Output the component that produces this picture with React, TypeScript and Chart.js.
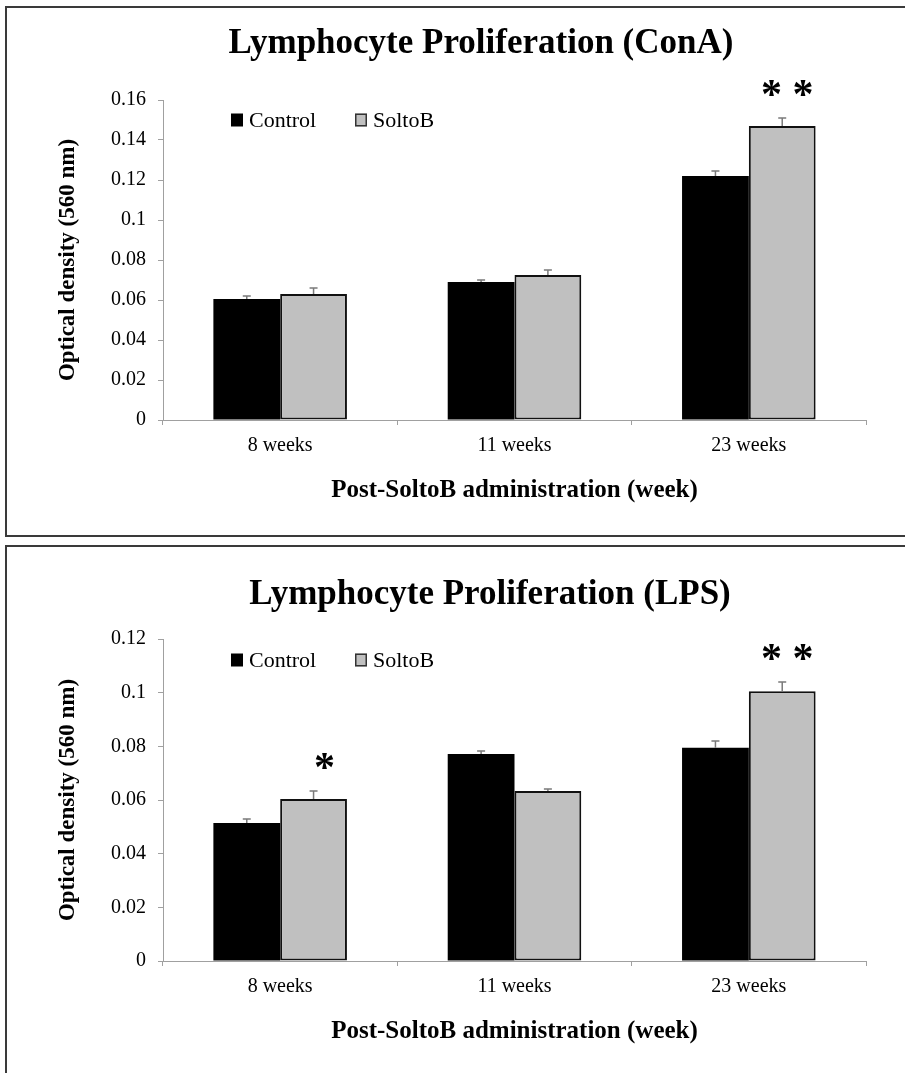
import React, { useEffect, useRef } from "react";
import { Chart, registerables } from "chart.js";

Chart.register(...registerables);

const SERIF = "'Liberation Serif', 'Times New Roman', serif";

const categories = ["8 weeks", "11 weeks", "23 weeks"];
const seriesNames = ["Control", "SoltoB"];
const seriesColors = ["#000000", "#c0c0c0"];

// Concanavalin A stimulated proliferation
const conaControl = [0.0605, 0.069, 0.122];
const conaSoltoB = [0.063, 0.0725, 0.147];
const conaControlErr = [0.0015, 0.001, 0.0025];
const conaSoltoBErr = [0.003, 0.0025, 0.004];
const conaMarks = ["", "", "**"];
const conaTicks = ["0", "0.02", "0.04", "0.06", "0.08", "0.1", "0.12", "0.14", "0.16"];

// Lipopolysaccharide stimulated proliferation
const lpsControl = [0.0514, 0.0771, 0.0795];
const lpsSoltoB = [0.0604, 0.0634, 0.1005];
const lpsControlErr = [0.0015, 0.0012, 0.0025];
const lpsSoltoBErr = [0.003, 0.0007, 0.0035];
const lpsMarks = ["*", "", "**"];
const lpsTicks = ["0", "0.02", "0.04", "0.06", "0.08", "0.1", "0.12"];

type PanelProps = {
  title: string;
  control: number[];
  soltob: number[];
  controlErr: number[];
  soltobErr: number[];
  marks: string[];
  ticks: string[];
  top: number;
  height: number;
  titleX: number;
  titleY: number;
  legendY: number;
  padBottom: number;
};

// Draws the chart title, the in-plot legend, upper error bars and significance marks.
const decorPlugin = {
  id: "decor",
  afterDatasetsDraw(chart: any, _args: any, opts: any) {
    const ctx: CanvasRenderingContext2D = chart.ctx;
    const yScale = chart.scales.y;
    ctx.save();
    chart.data.datasets.forEach((ds: any, di: number) => {
      const meta = chart.getDatasetMeta(di);
      const errs: number[] = opts.errors[di];
      meta.data.forEach((bar: any, i: number) => {
        const v = ds.data[i] as number;
        const yBar = yScale.getPixelForValue(v);
        const yTop = yScale.getPixelForValue(v + errs[i]);
        ctx.strokeStyle = "#7a7a7a";
        ctx.lineWidth = 1.5;
        ctx.beginPath();
        ctx.moveTo(bar.x, yBar);
        ctx.lineTo(bar.x, yTop);
        ctx.moveTo(bar.x - 4, yTop);
        ctx.lineTo(bar.x + 4, yTop);
        ctx.stroke();
      });
    });
    // significance marks above the SoltoB bars
    const metaS = chart.getDatasetMeta(1);
    const dsS = chart.data.datasets[1];
    (opts.marks as string[]).forEach((m, i) => {
      if (!m) return;
      const bar: any = metaS.data[i];
      const v = dsS.data[i] as number;
      const yTop = yScale.getPixelForValue(v + opts.errors[1][i]);
      ctx.fillStyle = "#000";
      ctx.font = `bold 42px ${SERIF}`;
      ctx.textAlign = "center";
      ctx.textBaseline = "alphabetic";
      const text = m.split("").join(" ");
      const dx = m.length === 1 ? 11 : 5;
      ctx.fillText(text, bar.x + dx, yTop - 10);
    });
    ctx.restore();
  },
  afterDraw(chart: any, _args: any, opts: any) {
    const ctx: CanvasRenderingContext2D = chart.ctx;
    ctx.save();
    ctx.fillStyle = "#000";
    ctx.font = `bold 35px ${SERIF}`;
    ctx.textAlign = "center";
    ctx.textBaseline = "middle";
    ctx.fillText(opts.title, opts.titleX, opts.titleY);

    // legend inside the plot area
    const area = chart.chartArea;
    let x = area.left + 68;
    const yc = opts.legendY;
    ctx.font = `22px ${SERIF}`;
    ctx.textAlign = "left";
    chart.data.datasets.forEach((ds: any, di: number) => {
      ctx.fillStyle = ds.backgroundColor;
      ctx.fillRect(x, yc - 6.5, 12, 13);
      if (di > 0) {
        ctx.strokeStyle = "#333";
        ctx.lineWidth = 1.5;
        ctx.strokeRect(x + 0.75, yc - 5.75, 10.5, 11.5);
      }
      ctx.fillStyle = "#000";
      ctx.fillText(ds.label, x + 18, yc + 1);
      x += 124;
    });
    ctx.restore();
  },
};

function Panel(p: PanelProps) {
  const ref = useRef<HTMLCanvasElement | null>(null);
  useEffect(() => {
    if (!ref.current) return;
    const yMax = Number(p.ticks[p.ticks.length - 1]);
    const chart = new Chart(ref.current, {
      type: "bar",
      data: {
        labels: categories,
        datasets: [
          {
            label: seriesNames[0],
            data: p.control,
            backgroundColor: seriesColors[0],
            borderColor: "#000",
            borderWidth: 0,
            categoryPercentage: 0.57,
            barPercentage: 1,
          },
          {
            label: seriesNames[1],
            data: p.soltob,
            backgroundColor: seriesColors[1],
            borderColor: "#111",
            borderWidth: 2,
            borderSkipped: false,
            categoryPercentage: 0.57,
            barPercentage: 1,
          },
        ],
      },
      options: {
        animation: false,
        responsive: false,
        layout: { padding: { top: 92, left: 0, right: 39, bottom: p.padBottom } },
        plugins: {
          legend: { display: false },
          title: { display: false },
          tooltip: { enabled: false },
          decor: {
            errors: [p.controlErr, p.soltobErr],
            marks: p.marks,
            title: p.title,
            titleX: p.titleX,
            titleY: p.titleY,
            legendY: p.legendY,
          },
        } as any,
        scales: {
          x: {
            afterFit: (s: any) => {
              s.height = 100;
            },
            grid: {
              offset: true,
              drawOnChartArea: false,
              drawTicks: true,
              tickLength: 5,
              color: "#a0a0a0",
            },
            border: { display: true, color: "#a0a0a0", width: 1 },
            ticks: { color: "#000", font: { family: SERIF, size: 20 }, padding: 9 },
            title: {
              display: true,
              text: "Post-SoltoB administration (week)",
              color: "#000",
              font: { family: SERIF, size: 25, weight: "bold" },
              padding: { top: 0, bottom: 14 },
            },
          },
          y: {
            min: 0,
            max: yMax,
            afterFit: (s: any) => {
              s.width = 156;
            },
            afterBuildTicks: (s: any) => {
              s.ticks = p.ticks.map((t) => ({ value: Number(t) }));
            },
            grid: {
              drawOnChartArea: false,
              drawTicks: true,
              tickLength: 5,
              color: "#a0a0a0",
            },
            border: { display: true, color: "#a0a0a0", width: 1 },
            ticks: {
              color: "#000",
              font: { family: SERIF, size: 20 },
              padding: 12,
              callback: (_v: any, i: number) => p.ticks[i],
            },
            title: {
              display: true,
              text: "Optical density (560 nm)",
              color: "#000",
              font: { family: SERIF, size: 23, weight: "bold" },
              padding: { top: 47, bottom: 0 },
            },
          },
        },
      },
      plugins: [decorPlugin as any],
    });
    return () => chart.destroy();
  }, []);
  return (
    <canvas
      ref={ref}
      width={898}
      height={p.height}
      style={{ position: "absolute", left: 7, top: p.top, width: 898, height: p.height }}
    />
  );
}

export default function App() {
  return (
    <div
      style={{
        position: "absolute",
        left: 0,
        top: 0,
        width: 905,
        height: 1073,
        overflow: "hidden",
        background: "#fff",
      }}
    >
      <div
        style={{
          position: "absolute",
          left: 5,
          top: 6,
          width: 920,
          height: 531,
          border: "2px solid #3a3a3a",
          boxSizing: "border-box",
        }}
      />
      <div
        style={{
          position: "absolute",
          left: 5,
          top: 545,
          width: 920,
          height: 560,
          border: "2px solid #3a3a3a",
          boxSizing: "border-box",
        }}
      />
      <Panel
        title="Lymphocyte Proliferation (ConA)"
        control={conaControl}
        soltob={conaSoltoB}
        controlErr={conaControlErr}
        soltobErr={conaSoltoBErr}
        marks={conaMarks}
        ticks={conaTicks}
        top={8}
        height={527}
        titleX={474}
        titleY={36}
        legendY={112}
        padBottom={15}
      />
      <Panel
        title="Lymphocyte Proliferation (LPS)"
        control={lpsControl}
        soltob={lpsSoltoB}
        controlErr={lpsControlErr}
        soltobErr={lpsSoltoBErr}
        marks={lpsMarks}
        ticks={lpsTicks}
        top={547}
        height={526}
        titleX={483}
        titleY={48}
        legendY={113}
        padBottom={12}
      />
    </div>
  );
}
